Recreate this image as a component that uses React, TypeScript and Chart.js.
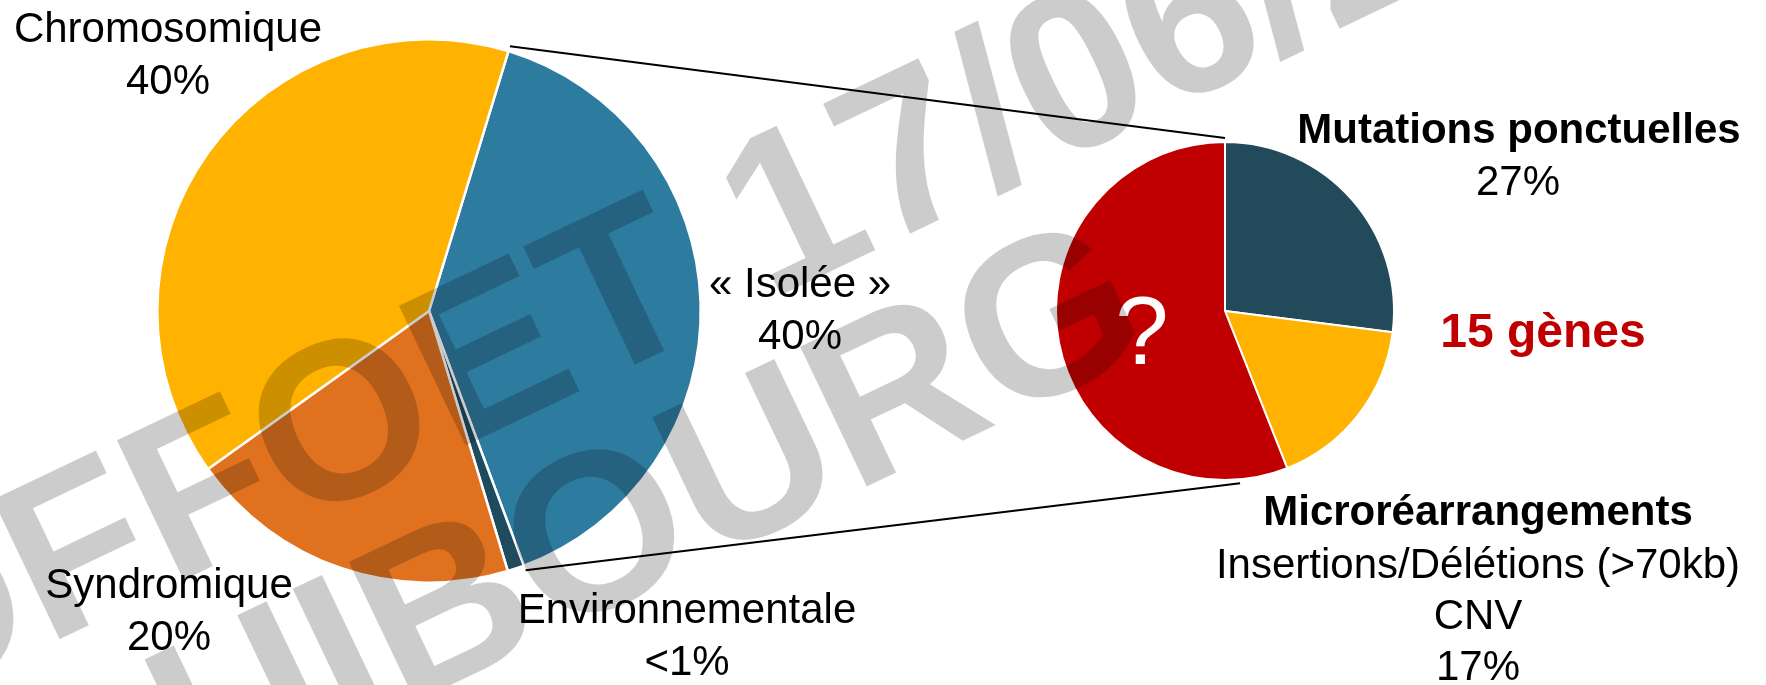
import React, { useEffect, useRef } from 'react';
import { Chart, registerables } from 'chart.js';

Chart.register(...registerables);

// ---- data ----
const mainCategories = ['« Isolée »', 'Environnementale', 'Syndromique', 'Chromosomique'];
const mainValues = [40, 1, 20, 40];
const mainPercents = ['40%', '<1%', '20%', '40%'];
const mainColors = ['#2E7BA0', '#1F4B5E', '#E0721F', '#FFB300'];

const detailCategories = ['Mutations ponctuelles', 'Microréarrangements', '?'];
const detailSubLabels = [[], ['Insertions/Délétions (>70kb)', 'CNV'], []];
const detailValues = [27, 17, 56];
const detailPercents = ['27%', '17%', ''];
const detailColors = ['#234A5A', '#FFB300', '#C00000'];
const geneCountLabel = '15 gènes';

const watermarkLines = ['OFFOET 17/06/2022', 'UIBOURG'];

const FONT = '"Liberation Sans", Arial, Helvetica, sans-serif';

function drawCentered(ctx: CanvasRenderingContext2D, text: string, x: number, y: number, font: string, color = '#000') {
  ctx.font = font;
  ctx.fillStyle = color;
  ctx.textAlign = 'center';
  ctx.textBaseline = 'alphabetic';
  ctx.fillText(text, x, y);
}

const leftLabelPlugin = {
  id: 'leftLabels',
  afterDraw(chart: any) {
    const ctx: CanvasRenderingContext2D = chart.ctx;
    const pos = [
      { x: 800, y: 297 },
      { x: 687, y: 623 },
      { x: 169, y: 598 },
      { x: 168, y: 42 },
    ];
    ctx.save();
    mainCategories.forEach((name, i) => {
      drawCentered(ctx, name, pos[i].x, pos[i].y, `42px ${FONT}`);
      drawCentered(ctx, mainPercents[i], pos[i].x, pos[i].y + 52, `42px ${FONT}`);
    });
    ctx.restore();
  },
};

function drawWatermark(ctx: CanvasRenderingContext2D) {
  const ang = (-25.5 * Math.PI) / 180;
  const origins = [
    { x: -112, y: 721 },
    { x: 199, y: 805 },
  ];
  watermarkLines.forEach((line, i) => {
    ctx.save();
    ctx.translate(origins[i].x, origins[i].y);
    ctx.rotate(ang);
    ctx.fillStyle = 'rgba(0,0,0,0.2)';
    ctx.font = `bold 225px ${FONT}`;
    ctx.textAlign = 'left';
    ctx.textBaseline = 'alphabetic';
    ctx.fillText(line, 0, 0);
    ctx.restore();
  });
}

function makeRightPlugin(getLeft: () => any) {
  return {
    id: 'rightLabels',
    afterDraw(chart: any) {
      const ctx: CanvasRenderingContext2D = chart.ctx;
      const left = getLeft();
      ctx.save();
      // connector lines
      if (left) {
        const la: any = left.getDatasetMeta(0).data[0];
        const lp = la.getProps(['x', 'y', 'outerRadius', 'startAngle', 'endAngle'], true);
        const ra: any = chart.getDatasetMeta(0).data[0];
        const rp = ra.getProps(['x', 'y', 'outerRadius'], true);
        const lr = lp.outerRadius + 5;
        const rr = rp.outerRadius + 4;
        const bottomAngle = (85 * Math.PI) / 180;
        ctx.strokeStyle = '#000';
        ctx.lineWidth = 2;
        ctx.beginPath();
        ctx.moveTo(lp.x + lr * Math.cos(lp.startAngle), lp.y + lr * Math.sin(lp.startAngle));
        ctx.lineTo(rp.x, rp.y - rr);
        ctx.moveTo(lp.x + lr * Math.cos(lp.endAngle), lp.y + lr * Math.sin(lp.endAngle));
        ctx.lineTo(rp.x + rr * Math.cos(bottomAngle), rp.y + rr * Math.sin(bottomAngle));
        ctx.stroke();
      }
      // labels
      drawCentered(ctx, detailCategories[0], 1519, 143, `bold 42px ${FONT}`);
      drawCentered(ctx, detailPercents[0], 1518, 195, `42px ${FONT}`);
      drawCentered(ctx, detailCategories[1], 1478, 525, `bold 42px ${FONT}`);
      detailSubLabels[1].forEach((t, i) => drawCentered(ctx, t, 1478, 578 + i * 51, `42px ${FONT}`));
      drawCentered(ctx, detailPercents[1], 1478, 680, `42px ${FONT}`);
      drawCentered(ctx, detailCategories[2], 1142, 364, `96px ${FONT}`, '#FFFFFF');
      drawCentered(ctx, geneCountLabel, 1543, 347, `bold 48px ${FONT}`, '#C00000');
      ctx.restore();

      drawWatermark(ctx);
    },
  };
}

export default function App() {
  const leftRef = useRef<HTMLCanvasElement>(null);
  const rightRef = useRef<HTMLCanvasElement>(null);

  useEffect(() => {
    let leftChart: any = null;
    leftChart = new Chart(leftRef.current as HTMLCanvasElement, {
      type: 'pie',
      data: {
        labels: mainCategories,
        datasets: [
          {
            data: mainValues,
            backgroundColor: mainColors,
            borderColor: '#FFFFFF',
            borderWidth: 2.5,
          },
        ],
      },
      options: {
        responsive: false,
        animation: false,
        rotation: 17,
        events: [],
        layout: { padding: { left: 156, top: 38, right: 1064, bottom: 101 } },
        plugins: { legend: { display: false }, tooltip: { enabled: false } },
      },
      plugins: [leftLabelPlugin],
    } as any);

    const rightChart = new Chart(rightRef.current as HTMLCanvasElement, {
      type: 'pie',
      data: {
        labels: detailCategories,
        datasets: [
          {
            data: detailValues,
            backgroundColor: detailColors,
            borderColor: '#FFFFFF',
            borderWidth: 2,
          },
        ],
      },
      options: {
        responsive: false,
        animation: false,
        rotation: 0,
        events: [],
        layout: { padding: { left: 1055, top: 141, right: 371, bottom: 204 } },
        plugins: { legend: { display: false }, tooltip: { enabled: false } },
      },
      plugins: [makeRightPlugin(() => leftChart)],
    } as any);

    return () => {
      rightChart.destroy();
      leftChart.destroy();
    };
  }, []);

  return (
    <div style={{ position: 'absolute', left: 0, top: 0, width: 1766, height: 685, background: '#fff', overflow: 'hidden' }}>
      <canvas ref={leftRef} width={1766} height={685} style={{ position: 'absolute', left: 0, top: 0 }} />
      <canvas ref={rightRef} width={1766} height={685} style={{ position: 'absolute', left: 0, top: 0 }} />
    </div>
  );
}
